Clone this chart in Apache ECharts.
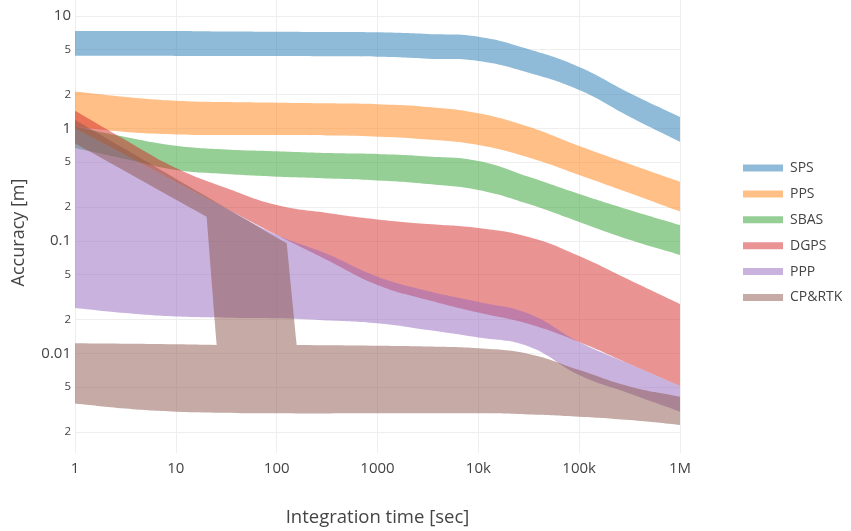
<!DOCTYPE html>
<html>
<head>
<meta charset="utf-8">
<script src="https://cdn.jsdelivr.net/npm/echarts@6/dist/echarts.min.js"></script>
<style>
html,body{margin:0;padding:0;background:#fff;}
#chart{width:851px;height:531px;}
</style>
</head>
<body>
<div id="chart"></div>
<script>
// ---- data ----
const seriesNames = ['SPS', 'PPS', 'SBAS', 'DGPS', 'PPP', 'CP&RTK'];

// integration time samples [sec]
const xTime = [1, 3.16, 10, 31.6, 100, 316, 1000, 3160, 10000, 31600, 100000, 316000, 1000000];

const spsUpper  = [7.33, 7.33, 7.33, 7.25, 7.22, 7.18, 7.13, 6.89, 6.52, 5.04, 3.51, 2.06, 1.26];
const spsLower  = [4.42, 4.41, 4.40, 4.40, 4.39, 4.37, 4.33, 4.16, 3.97, 3.12, 2.19, 1.27, 0.76];

const ppsUpper  = [2.12, 1.90, 1.76, 1.71, 1.69, 1.67, 1.64, 1.55, 1.36, 1.03, 0.696, 0.482, 0.335];
const ppsLower  = [1.03, 0.927, 0.881, 0.872, 0.870, 0.863, 0.842, 0.795, 0.711, 0.550, 0.385, 0.266, 0.182];

const sbasUpper = [1.03, 0.837, 0.700, 0.648, 0.625, 0.603, 0.591, 0.562, 0.512, 0.371, 0.261, 0.188, 0.138];
const sbasLower = [0.668, 0.533, 0.426, 0.392, 0.371, 0.358, 0.344, 0.320, 0.283, 0.212, 0.147, 0.102, 0.0748];

const dgpsUpper = [1.43, 0.787, 0.444, 0.295, 0.208, 0.177, 0.155, 0.141, 0.130, 0.108, 0.0733, 0.0448, 0.0274];
const dgpsLower = [1.00, 0.579, 0.333, 0.194, 0.113, 0.0675, 0.0405, 0.0298, 0.0230, 0.0182, 0.0126, 0.00803, 0.00512];

const pppUpper  = [1.00, 0.579, 0.333, 0.194, 0.113, 0.0763, 0.0480, 0.0358, 0.0286, 0.0225, 0.0126, 0.00803, 0.00512];
const pppLower  = [0.0253, 0.0228, 0.0212, 0.0207, 0.0205, 0.0196, 0.0185, 0.0161, 0.0138, 0.0115, 0.00641, 0.00439, 0.00303];

// CP&RTK outline (closed polygon, x = time, y = accuracy)
const cpX = [1, 125.8, 158, 1000, 3160, 10000, 31600, 100000, 316000, 1000000,
             1000000, 316000, 100000, 31600, 10000, 1000, 100, 10, 3.16, 1,
             1, 10, 25.4, 20.2, 1];
const cpY = [1.185, 0.0950, 0.01185, 0.01168, 0.01149, 0.01107, 0.00986, 0.00710, 0.00507, 0.00411,
             0.00231, 0.00255, 0.00273, 0.00286, 0.00293, 0.00293, 0.00293, 0.00303, 0.00323, 0.00358,
             0.01227, 0.01202, 0.01185, 0.1637, 0.736];

// axis ticks
const xTickValues = [1, 10, 100, 1000, 10000, 100000, 1000000];
const xTickLabels = ['1', '10', '100', '1000', '10k', '100k', '1M'];
const yTickValues = [0.002, 0.005, 0.01, 0.02, 0.05, 0.1, 0.2, 0.5, 1, 2, 5, 10];
const yTickLabels = ['2', '5', '0.01', '2', '5', '0.1', '2', '5', '1', '2', '5', '10'];

// ---- styling ----
const colors = [
  'rgba(31,119,180,0.5)',
  'rgba(255,127,14,0.5)',
  'rgba(44,160,44,0.5)',
  'rgba(214,39,40,0.5)',
  'rgba(148,103,189,0.5)',
  'rgba(140,86,75,0.5)'
];
const FONT = '"Open Sans", "DejaVu Sans", sans-serif';

function bandPath(xs, up, lo) {
  const p = [];
  for (let i = 0; i < xs.length; i++) p.push([xs[i], up[i]]);
  for (let i = xs.length - 1; i >= 0; i--) p.push([xs[i], lo[i]]);
  return p;
}
function outlinePath(xs, ys) {
  return xs.map((x, i) => [x, ys[i]]);
}

const paths = [
  bandPath(xTime, spsUpper, spsLower),
  bandPath(xTime, ppsUpper, ppsLower),
  bandPath(xTime, sbasUpper, sbasLower),
  bandPath(xTime, dgpsUpper, dgpsLower),
  bandPath(xTime, pppUpper, pppLower),
  outlinePath(cpX, cpY)
];

function makeRender(path, color) {
  return function (params, api) {
    if (params.dataIndex !== 0) return null;
    const px = path.map(p => api.coord(p));
    const n = px.length;
    const pts = [];
    for (let i = 0; i < n; i++) {
      const a = px[(i - 1 + n) % n], b = px[i], c = px[(i + 1) % n];
      const a1 = Math.atan2(b[1] - a[1], b[0] - a[0]);
      const a2 = Math.atan2(c[1] - b[1], c[0] - b[0]);
      let d = Math.abs(a2 - a1);
      if (d > Math.PI) d = 2 * Math.PI - d;
      pts.push([b[0], b[1]]);
      if (d > 0.7) pts.push([b[0], b[1]]); // keep sharp corners
    }
    return {
      type: 'polygon',
      shape: { points: pts, smooth: 0.45 },
      style: { fill: color, stroke: null },
      silent: true
    };
  };
}

const series = seriesNames.map((name, k) => ({
  name: name,
  type: 'custom',
  coordinateSystem: 'cartesian2d',
  data: paths[k],
  encode: { x: 0, y: 1 },
  itemStyle: { color: colors[k] },
  renderItem: makeRender(paths[k], colors[k]),
  clip: true,
  z: 2 + k
}));

function yFmt(v) {
  let idx = 0, best = Infinity;
  yTickValues.forEach((t, i) => {
    const d = Math.abs(Math.log10(t) - Math.log10(v));
    if (d < best) { best = d; idx = i; }
  });
  const lg = Math.log10(yTickValues[idx]);
  const major = Math.abs(lg - Math.round(lg)) < 1e-6;
  return (major ? '{maj|' : '{min|') + yTickLabels[idx] + '}';
}
function xFmt(v) {
  const i = Math.round(Math.log10(v));
  return xTickLabels[i] !== undefined ? xTickLabels[i] : '';
}

const chart = echarts.init(document.getElementById('chart'), null, { renderer: 'canvas' });
chart.setOption({
  animation: false,
  backgroundColor: '#ffffff',
  textStyle: { fontFamily: FONT },
  grid: { left: 75, right: 171, top: 0, bottom: 78, containLabel: false, outerBoundsMode: 'none' },
  legend: {
    orient: 'vertical',
    left: 743,
    top: 160,
    padding: 0,
    itemWidth: 40,
    itemHeight: 7,
    itemGap: 9.9,
    icon: 'rect',
    selectedMode: false,
    textStyle: { fontFamily: FONT, fontSize: 14, color: '#444', lineHeight: 16, padding: [0, 0, 0, 2] },
    data: seriesNames
  },
  xAxis: {
    type: 'log',
    logBase: 10,
    min: 1,
    max: 1000000,
    name: 'Integration time [sec]',
    nameLocation: 'middle',
    nameGap: 55,
    nameTextStyle: { fontFamily: FONT, fontSize: 18.5, color: '#444' },
    axisLine: { show: false },
    axisTick: { show: false, customValues: xTickValues },
    axisLabel: {
      customValues: xTickValues,
      formatter: xFmt,
      fontFamily: FONT, fontSize: 15, color: '#444', margin: 8
    },
    splitLine: { show: true, lineStyle: { color: '#eeeeee', width: 1 } }
  },
  yAxis: {
    type: 'log',
    logBase: 10,
    min: 0.0013,
    max: 13.82,
    name: 'Accuracy [m]',
    nameLocation: 'middle',
    nameGap: 47,
    nameRotate: 90,
    nameTextStyle: { fontFamily: FONT, fontSize: 18, color: '#444', padding: [0, 12, 0, 0] },
    axisLine: { show: false },
    axisTick: { show: false, customValues: yTickValues },
    axisLabel: {
      customValues: yTickValues,
      formatter: yFmt,
      margin: 4,
      color: '#444',
      rich: {
        maj: { fontFamily: FONT, fontSize: 15, color: '#444' },
        min: { fontFamily: FONT, fontSize: 11.5, color: '#444' }
      }
    },
    splitLine: { show: true, lineStyle: { color: '#eeeeee', width: 1 } }
  },
  series: series
});
</script>
</body>
</html>
